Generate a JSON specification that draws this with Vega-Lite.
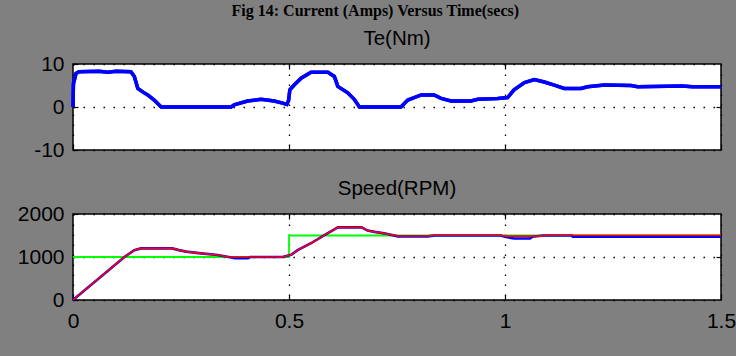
{
  "$schema": "https://vega.github.io/schema/vega-lite/v6.json",
  "background": "#808080",
  "padding": {"left": 14, "top": 2, "right": 0, "bottom": 30},
  "title": {"text": "Fig 14: Current (Amps) Versus Time(secs)", "font": "Liberation Serif", "fontSize": 16, "fontWeight": "bold", "color": "black", "anchor": "middle", "frame": "bounds", "offset": 9},
  "spacing": 16,
  "config": {
    "view": {"fill": "white", "stroke": "black", "strokeWidth": 1.5},
    "axis": {"domain": false, "labelFont": "Liberation Sans", "labelFontSize": 21, "labelColor": "black", "gridColor": "black", "gridDash": [1.5, 8.5], "gridWidth": 1.3, "gridOpacity": 1, "tickColor": "black", "tickSize": -5, "tickWidth": 1.2, "labelPadding": 14, "title": null, "labelFlush": false, "labelOverlap": false},
    "title": {"font": "Liberation Sans", "fontSize": 20.5, "fontWeight": "normal", "color": "black", "offset": 0}
  },
  "datasets": {
    "te": [
      {"t": 0, "te": 0}, {"t": 0.001, "te": 5.4}, {"t": 0.007, "te": 7.8}, {"t": 0.014, "te": 8.2}, {"t": 0.06, "te": 8.3}, {"t": 0.08, "te": 8.1}, {"t": 0.1, "te": 8.3}, {"t": 0.134, "te": 8.2}, {"t": 0.142, "te": 7.1}, {"t": 0.15, "te": 4.3}, {"t": 0.163, "te": 3.4}, {"t": 0.173, "te": 2.8}, {"t": 0.188, "te": 1.6}, {"t": 0.204, "te": 0}, {"t": 0.366, "te": 0}, {"t": 0.373, "te": 0.5}, {"t": 0.404, "te": 1.4}, {"t": 0.435, "te": 1.8}, {"t": 0.466, "te": 1.4}, {"t": 0.485, "te": 0.9}, {"t": 0.495, "te": 0.6}, {"t": 0.499, "te": 1.5}, {"t": 0.502, "te": 4.0}, {"t": 0.512, "te": 5.1}, {"t": 0.528, "te": 6.7}, {"t": 0.551, "te": 8.1}, {"t": 0.59, "te": 8.1}, {"t": 0.605, "te": 7.1}, {"t": 0.613, "te": 4.8}, {"t": 0.636, "te": 3.3}, {"t": 0.651, "te": 1.8}, {"t": 0.663, "te": 0}, {"t": 0.759, "te": 0}, {"t": 0.775, "te": 1.6}, {"t": 0.806, "te": 2.8}, {"t": 0.836, "te": 2.8}, {"t": 0.852, "te": 2.0}, {"t": 0.875, "te": 1.4}, {"t": 0.921, "te": 1.4}, {"t": 0.937, "te": 1.8}, {"t": 0.983, "te": 2.0}, {"t": 1.006, "te": 2.2}, {"t": 1.021, "te": 4.0}, {"t": 1.045, "te": 5.7}, {"t": 1.068, "te": 6.4}, {"t": 1.091, "te": 5.8}, {"t": 1.114, "te": 5.1}, {"t": 1.137, "te": 4.3}, {"t": 1.176, "te": 4.3}, {"t": 1.191, "te": 4.7}, {"t": 1.23, "te": 5.1}, {"t": 1.292, "te": 5.0}, {"t": 1.307, "te": 4.7}, {"t": 1.41, "te": 4.9}, {"t": 1.434, "te": 4.7}, {"t": 1.5, "te": 4.7}
    ],
    "speed": [
      {"series": "reference", "i": 0, "t": 0, "rpm": 1000}, {"series": "reference", "i": 1, "t": 0.5, "rpm": 1000}, {"series": "reference", "i": 2, "t": 0.5, "rpm": 1500}, {"series": "reference", "i": 3, "t": 1.5, "rpm": 1500},
      {"series": "measured", "i": 0, "t": 0, "rpm": 0}, {"series": "measured", "i": 1, "t": 0.119, "rpm": 1000}, {"series": "measured", "i": 2, "t": 0.142, "rpm": 1160}, {"series": "measured", "i": 3, "t": 0.157, "rpm": 1200}, {"series": "measured", "i": 4, "t": 0.23, "rpm": 1200}, {"series": "measured", "i": 5, "t": 0.245, "rpm": 1160}, {"series": "measured", "i": 6, "t": 0.262, "rpm": 1125}, {"series": "measured", "i": 7, "t": 0.296, "rpm": 1085}, {"series": "measured", "i": 8, "t": 0.335, "rpm": 1046}, {"series": "measured", "i": 9, "t": 0.36, "rpm": 1000}, {"series": "measured", "i": 10, "t": 0.375, "rpm": 975}, {"series": "measured", "i": 11, "t": 0.405, "rpm": 975}, {"series": "measured", "i": 12, "t": 0.41, "rpm": 1000}, {"series": "measured", "i": 13, "t": 0.485, "rpm": 1000}, {"series": "measured", "i": 14, "t": 0.505, "rpm": 1050}, {"series": "measured", "i": 15, "t": 0.52, "rpm": 1160}, {"series": "measured", "i": 16, "t": 0.551, "rpm": 1320}, {"series": "measured", "i": 17, "t": 0.582, "rpm": 1510}, {"series": "measured", "i": 18, "t": 0.605, "rpm": 1645}, {"series": "measured", "i": 19, "t": 0.613, "rpm": 1690}, {"series": "measured", "i": 20, "t": 0.668, "rpm": 1690}, {"series": "measured", "i": 21, "t": 0.682, "rpm": 1615}, {"series": "measured", "i": 22, "t": 0.698, "rpm": 1585}, {"series": "measured", "i": 23, "t": 0.72, "rpm": 1550}, {"series": "measured", "i": 24, "t": 0.752, "rpm": 1480}, {"series": "measured", "i": 25, "t": 0.821, "rpm": 1480}, {"series": "measured", "i": 26, "t": 0.837, "rpm": 1500}, {"series": "measured", "i": 27, "t": 0.99, "rpm": 1500}, {"series": "measured", "i": 28, "t": 1.0, "rpm": 1470}, {"series": "measured", "i": 29, "t": 1.021, "rpm": 1430}, {"series": "measured", "i": 30, "t": 1.058, "rpm": 1430}, {"series": "measured", "i": 31, "t": 1.063, "rpm": 1470}, {"series": "measured", "i": 32, "t": 1.09, "rpm": 1500}, {"series": "measured", "i": 33, "t": 1.155, "rpm": 1500}, {"series": "measured", "i": 34, "t": 1.157, "rpm": 1470}, {"series": "measured", "i": 35, "t": 1.5, "rpm": 1470},
      {"series": "estimated", "i": 0, "t": 0, "rpm": 0}, {"series": "estimated", "i": 1, "t": 0.119, "rpm": 1000}, {"series": "estimated", "i": 2, "t": 0.142, "rpm": 1160}, {"series": "estimated", "i": 3, "t": 0.157, "rpm": 1200}, {"series": "estimated", "i": 4, "t": 0.23, "rpm": 1200}, {"series": "estimated", "i": 5, "t": 0.245, "rpm": 1160}, {"series": "estimated", "i": 6, "t": 0.262, "rpm": 1125}, {"series": "estimated", "i": 7, "t": 0.296, "rpm": 1085}, {"series": "estimated", "i": 8, "t": 0.335, "rpm": 1046}, {"series": "estimated", "i": 9, "t": 0.36, "rpm": 1000}, {"series": "estimated", "i": 10, "t": 0.485, "rpm": 1000}, {"series": "estimated", "i": 11, "t": 0.505, "rpm": 1050}, {"series": "estimated", "i": 12, "t": 0.52, "rpm": 1160}, {"series": "estimated", "i": 13, "t": 0.551, "rpm": 1320}, {"series": "estimated", "i": 14, "t": 0.582, "rpm": 1510}, {"series": "estimated", "i": 15, "t": 0.605, "rpm": 1645}, {"series": "estimated", "i": 16, "t": 0.613, "rpm": 1690}, {"series": "estimated", "i": 17, "t": 0.668, "rpm": 1690}, {"series": "estimated", "i": 18, "t": 0.682, "rpm": 1615}, {"series": "estimated", "i": 19, "t": 0.698, "rpm": 1585}, {"series": "estimated", "i": 20, "t": 0.72, "rpm": 1550}, {"series": "estimated", "i": 21, "t": 0.752, "rpm": 1490}, {"series": "estimated", "i": 22, "t": 0.821, "rpm": 1490}, {"series": "estimated", "i": 23, "t": 0.837, "rpm": 1505}, {"series": "estimated", "i": 24, "t": 0.99, "rpm": 1505}, {"series": "estimated", "i": 25, "t": 1.0, "rpm": 1485}, {"series": "estimated", "i": 26, "t": 1.09, "rpm": 1485}, {"series": "estimated", "i": 27, "t": 1.095, "rpm": 1505}, {"series": "estimated", "i": 28, "t": 1.5, "rpm": 1505}
    ]
  },
  "vconcat": [
    {
      "width": 648, "height": 86,
      "title": "Te(Nm)",
      "data": {"name": "te"},
      "resolve": {"axis": {"x": "independent", "y": "independent"}},
      "layer": [
        {
          "mark": {"type": "line", "color": "#0000FF", "strokeWidth": 3.5},
          "encoding": {
            "x": {"field": "t", "type": "quantitative", "scale": {"domain": [0, 1.5], "nice": false}, "axis": {"orient": "bottom", "values": [0, 0.5, 1, 1.5], "labels": false, "grid": true}},
            "y": {"field": "te", "type": "quantitative", "scale": {"domain": [-10, 10], "nice": false}, "axis": {"orient": "left", "values": [-10, 0, 10], "grid": true, "minExtent": 58, "maxExtent": 58, "labelExpr": "'' + datum.value"}}
          }
        },
        {
          "mark": {"type": "line", "color": "#0000FF", "strokeWidth": 3.5},
          "encoding": {
            "x": {"field": "t", "type": "quantitative", "axis": {"orient": "top", "values": [0.5, 1], "labels": false, "grid": false}},
            "y": {"field": "te", "type": "quantitative", "axis": {"orient": "right", "values": [0], "labels": false, "grid": false}}
          }
        }
      ]
    },
    {
      "width": 648, "height": 86,
      "title": "Speed(RPM)",
      "data": {"name": "speed"},
      "resolve": {"axis": {"x": "independent", "y": "independent"}},
      "layer": [
        {
          "transform": [{"filter": "datum.series === 'reference'"}],
          "mark": {"type": "line", "color": "#00FF00", "strokeWidth": 1.8},
          "encoding": {
            "x": {"field": "t", "type": "quantitative", "scale": {"domain": [0, 1.5], "nice": false}, "axis": {"orient": "bottom", "values": [0, 0.5, 1, 1.5], "grid": true, "labelExpr": "'' + datum.value", "labelPadding": 15}},
            "y": {"field": "rpm", "type": "quantitative", "scale": {"domain": [0, 2000], "nice": false}, "axis": {"orient": "left", "values": [0, 1000, 2000], "grid": true, "minExtent": 58, "maxExtent": 58, "labelExpr": "'' + datum.value"}},
            "order": {"field": "i"}
          }
        },
        {
          "transform": [{"filter": "datum.series === 'measured'"}],
          "mark": {"type": "line", "color": "#0000FF", "strokeWidth": 2.6},
          "encoding": {
            "x": {"field": "t", "type": "quantitative", "axis": {"orient": "top", "values": [0.5, 1], "labels": false, "grid": false}},
            "y": {"field": "rpm", "type": "quantitative", "axis": {"orient": "right", "values": [1000], "labels": false, "grid": false}},
            "order": {"field": "i"}
          }
        },
        {
          "transform": [{"filter": "datum.series === 'estimated'"}],
          "mark": {"type": "line", "color": "#FF0000", "strokeWidth": 1.6},
          "encoding": {
            "x": {"field": "t", "type": "quantitative", "axis": null},
            "y": {"field": "rpm", "type": "quantitative", "axis": null},
            "order": {"field": "i"}
          }
        }
      ]
    }
  ]
}
